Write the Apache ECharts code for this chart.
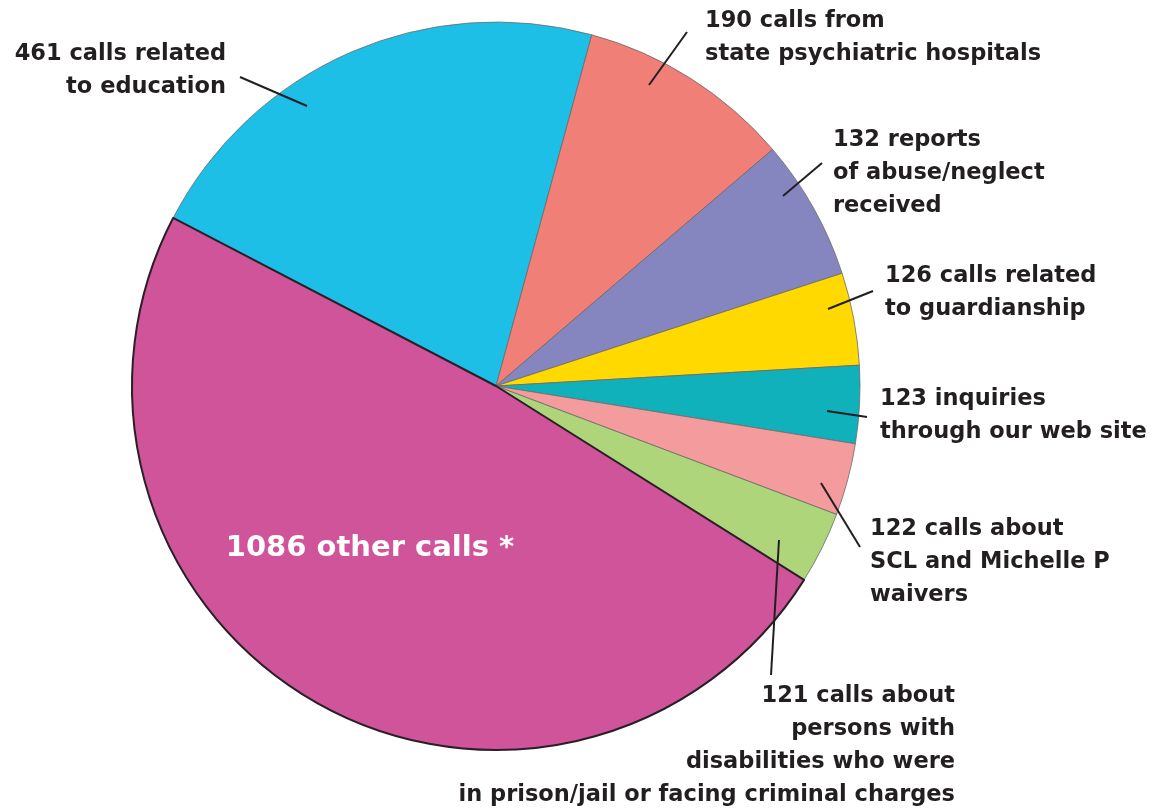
<!DOCTYPE html>
<html>
<head>
<meta charset="utf-8">
<script src="https://cdn.jsdelivr.net/npm/echarts@6/dist/echarts.min.js"></script>
<style>
  html, body { margin: 0; padding: 0; background: #fff; }
  #chart { width: 1160px; height: 811px; }
</style>
</head>
<body>
<div id="chart"></div>
<script>
// slices clockwise, starting from the education wedge
var names = ['education', 'psychiatric', 'abuse', 'guardianship', 'web', 'waivers', 'prison', 'other'];
var counts = [461, 190, 132, 126, 123, 122, 121, 1086];
// share of the circle each wedge takes in the picture (percent)
var shares = [21.6, 9.5, 6.25, 4.1, 3.45, 3.2, 3.2, 48.7];
var labels = [
  counts[0] + ' calls related\nto education',
  counts[1] + ' calls from\nstate psychiatric hospitals',
  counts[2] + ' reports\nof abuse/neglect\nreceived',
  counts[3] + ' calls related\nto guardianship',
  counts[4] + ' inquiries\nthrough our web site',
  counts[5] + ' calls about\nSCL and Michelle P\nwaivers',
  counts[6] + ' calls about\npersons with\ndisabilities who were\nin prison/jail or facing criminal charges',
  counts[7] + ' other calls *'
];
var colors = ['#1ebfe6', '#f07f78', '#8585bf', '#ffd900', '#10b1bb', '#f49b9e', '#aed57a', '#cf5499'];

// where each label sits and where its pointer line runs
var labelPlace = [
  { x: 226, y: 38, align: 'right', line: [[240, 77], [307, 106]] },
  { x: 705, y: 5, align: 'left', line: [[687, 32], [649, 85]] },
  { x: 833, y: 124, align: 'left', line: [[822, 163], [783, 196]] },
  { x: 885, y: 260, align: 'left', line: [[873, 291], [828, 309]] },
  { x: 880, y: 383, align: 'left', line: [[867, 417], [827, 411]] },
  { x: 870, y: 513, align: 'left', line: [[860, 547], [821, 483]] },
  { x: 955, y: 680, align: 'right', line: [[771, 675], [779, 540]] },
  { x: 370, y: 530, align: 'center', line: null }
];

var chartDom = document.getElementById('chart');
var myChart = echarts.init(chartDom);
var option;

var data = names.map(function (n, i) {
  var item = {
    name: n,
    value: shares[i],
    itemStyle: { color: colors[i] }
  };
  if (n === 'other') {
    item.itemStyle.borderColor = '#2a1f28';
    item.itemStyle.borderWidth = 2;
    item.label = { color: '#ffffff', fontSize: 29, lineHeight: 36 };
  }
  return item;
});

// pointer lines go on top of the wedges
var pointers = labelPlace.filter(function (s) { return s.line; }).map(function (s) {
  return {
    type: 'polyline',
    z: 100,
    silent: true,
    shape: { points: s.line },
    style: { stroke: '#231f20', lineWidth: 2, fill: null }
  };
});

option = {
  animation: false,
  graphic: pointers,
  series: [
    {
      type: 'pie',
      center: [496, 386],
      radius: 364,
      startAngle: 152.5,
      clockwise: true,
      avoidLabelOverlap: false,
      silent: true,
      itemStyle: {
        borderColor: '#6a6a6a',
        borderWidth: 0.8
      },
      label: {
        show: true,
        position: 'outside',
        overflow: 'none',
        color: '#231f20',
        fontFamily: 'DejaVu Sans',
        fontWeight: 'bold',
        fontSize: 22.5,
        lineHeight: 33,
        formatter: function (p) { return labels[p.dataIndex]; }
      },
      labelLine: { show: false },
      labelLayout: function (p) {
        var s = labelPlace[p.dataIndex];
        return {
          x: s.x,
          y: s.y,
          align: s.align,
          verticalAlign: 'top',
          moveOverlap: false
        };
      },
      data: data
    }
  ]
};

option && myChart.setOption(option);
</script>
</body>
</html>
